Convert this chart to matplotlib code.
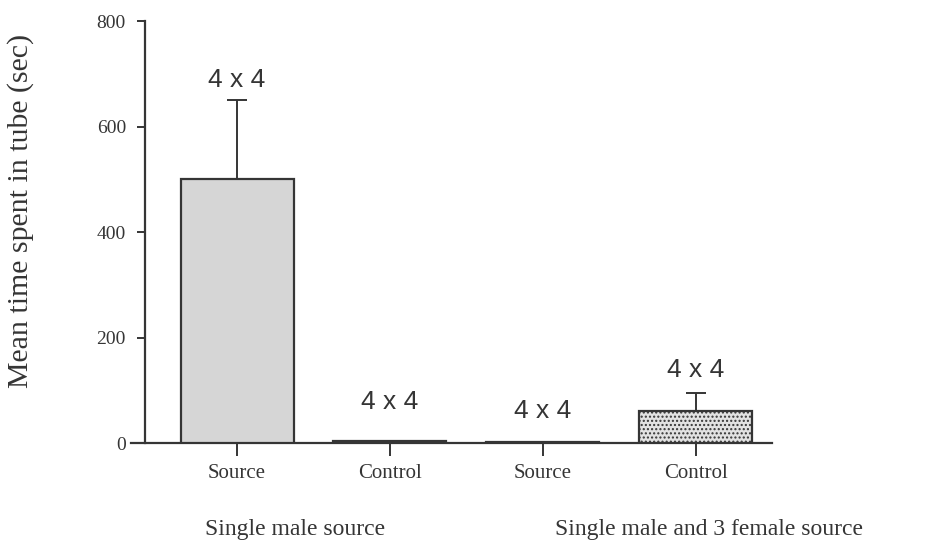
import matplotlib
matplotlib.use('Agg')
import matplotlib.pyplot as plt
import numpy as np

tick_labels = ['Source', 'Control', 'Source', 'Control']
means = [500, 3, 2, 60]
err_up = [150, 0, 0, 35]
n_labels = ['4 x 4', '4 x 4', '4 x 4', '4 x 4']
groups = ['Single male source', 'Single male and 3 female source']

ink = '#353535'
plt.rcParams['font.family'] = ['Liberation Serif', 'DejaVu Serif']
plt.rcParams['hatch.color'] = '#a8a8a8'

fig = plt.figure(figsize=(9.5, 5.53), dpi=100)
ax = fig.add_axes([0.1379, 0.1989, 0.6747, 0.763])

x = np.arange(len(means))
lower = np.zeros(len(means))
bars = ax.bar(x, means, width=0.74, color='#d6d6d6', edgecolor=ink, linewidth=1.6, zorder=3)
bars[3].set_facecolor('#e2e2e2')
bars[3].set_hatch('....')

ax.errorbar(x, means, yerr=[lower, err_up], fmt='none', ecolor=ink,
            elinewidth=1.4, capsize=7, capthick=1.4, zorder=4)

# sample size labels above bars
offsets = [6, 20, 14, 8]
for xi, m, e, lab, off in zip(x, means, err_up, n_labels, offsets):
    ax.annotate(lab, xy=(xi, m + e), xytext=(0, off), textcoords='offset points',
                ha='center', va='bottom', fontsize=19, color=ink,
                family=['Liberation Sans', 'DejaVu Sans'])

ax.set_xlim(-0.694, 3.50)
ax.set_ylim(0, 800)
ax.set_yticks([0, 200, 400, 600, 800])
ax.set_xticks(x)
ax.set_xticklabels(tick_labels)

ax.spines['top'].set_visible(False)
ax.spines['right'].set_visible(False)
ax.spines['left'].set_position(('data', -0.60))
for s in ('left', 'bottom'):
    ax.spines[s].set_linewidth(1.6)
    ax.spines[s].set_color(ink)
ax.tick_params(axis='x', length=9, width=1.4, pad=6, color=ink, labelsize=15, labelcolor=ink)
ax.tick_params(axis='y', length=6, width=1.4, pad=8, color=ink, labelsize=14, labelcolor=ink)

ax.set_ylabel('Mean time spent in tube (sec)', fontsize=21.5, color=ink)
ax.yaxis.set_label_coords(-0.151, 0.55)

for gx, g in zip([-0.21, 2.08], groups):
    ax.text(gx, -0.206, g, transform=ax.get_xaxis_transform(), ha='left', va='center',
            fontsize=17, color=ink)

plt.savefig('out.png', dpi=100)
plt.close()
